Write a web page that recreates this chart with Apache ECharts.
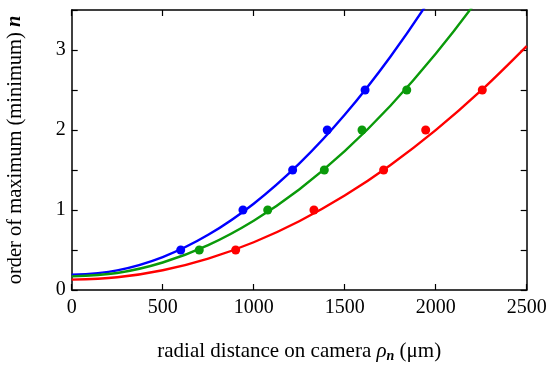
<!DOCTYPE html>
<html>
<head>
<meta charset="utf-8">
<script src="https://cdn.jsdelivr.net/npm/echarts@6/dist/echarts.min.js"></script>
<style>
  html, body { margin: 0; padding: 0; background: #fff; }
  #main { width: 549px; height: 367px; }
</style>
</head>
<body>
<div id="main"></div>
<script>
var myChart = echarts.init(document.getElementById('main'));

// measured points (radial distance in um, order n)
var bluePts = [[599, 0.5], [941, 1.0], [1214, 1.5], [1404, 2.0], [1612, 2.5]];
var greenPts = [[701, 0.5], [1077, 1.0], [1388, 1.5], [1595, 2.0], [1841, 2.5]];
var redPts = [[901, 0.5], [1331, 1.0], [1714, 1.5], [1945, 2.0], [2256, 2.5]];

// fitted curves
var curveX = [0, 250, 500, 750, 1000, 1250, 1500, 1750, 2000, 2250, 2500];
var blueFit = [0.19, 0.246, 0.412, 0.690, 1.079, 1.579, 2.190, 2.913, 3.746, 4.69, 5.75];
var greenFit = [0.17, 0.213, 0.344, 0.561, 0.866, 1.257, 1.735, 2.300, 2.952, 3.691, 4.52];
var redFit = [0.13, 0.159, 0.247, 0.393, 0.597, 0.860, 1.181, 1.560, 1.998, 2.494, 3.049];

function pairs(ys) {
    return curveX.map(function (x, i) { return [x, ys[i]]; });
}

var font = 'Liberation Serif';
var black = '#000';
var green = '#0a9a0a';

function fitLine(ys, color) {
    return {
        type: 'line', data: pairs(ys), smooth: 0.35, showSymbol: false,
        lineStyle: {color: color, width: 2.4}, clip: true, z: 2
    };
}
function dots(pts, color) {
    return {
        type: 'scatter', data: pts, symbolSize: 9,
        itemStyle: {color: color, opacity: 1}, z: 3
    };
}

var frameLine = {show: true, onZero: false, lineStyle: {color: black, width: 1.5}};
var tick = {inside: true, length: 6, lineStyle: {color: black, width: 1.2}};
var minor = {show: true, splitNumber: 2, length: 6, lineStyle: {color: black, width: 1.2}};

let option = {
    animation: false,
    grid: {left: 71.7, right: 22.3, top: 10, bottom: 77, outerBoundsMode: 'none'},
    xAxis: [{
        type: 'value', min: 0, max: 2500, interval: 500,
        axisLine: frameLine, axisTick: tick,
        axisLabel: {fontFamily: font, fontSize: 20, color: black, margin: 8,
            formatter: function (v) { return String(v); }},
        splitLine: {show: false},
        name: '{t|radial distance on camera }{g|ρ}{s|n}{t| (μm)}',
        nameLocation: 'middle', nameGap: 49,
        nameTextStyle: {
            rich: {
                t: {fontFamily: font, fontSize: 21, color: black},
                g: {fontFamily: font, fontSize: 21, fontStyle: 'italic', color: black},
                s: {fontFamily: font, fontSize: 14, fontStyle: 'italic', fontWeight: 'bold', color: black, padding: [10, 0, 0, 0]}
            }
        }
    }, {
        type: 'value', position: 'top', min: 0, max: 2500, interval: 500,
        axisLine: frameLine, axisTick: tick,
        axisLabel: {show: false}, splitLine: {show: false}
    }],
    yAxis: [{
        type: 'value', min: 0, max: 3.5, interval: 1,
        axisLine: frameLine, axisTick: tick, minorTick: minor,
        axisLabel: {fontFamily: font, fontSize: 20, color: black, margin: 6,
            showMaxLabel: false},
        splitLine: {show: false},
        name: '{t|order of maximum (minimum) }{n|n}',
        nameLocation: 'middle', nameGap: 46, nameRotate: 90,
        nameTextStyle: {
            rich: {
                t: {fontFamily: font, fontSize: 20.5, color: black},
                n: {fontFamily: font, fontSize: 20.5, fontStyle: 'italic', fontWeight: 'bold', color: black}
            }
        }
    }, {
        type: 'value', position: 'right', min: 0, max: 3.5, interval: 1,
        axisLine: frameLine, axisTick: tick, minorTick: minor,
        axisLabel: {show: false}, splitLine: {show: false}
    }],
    series: [
        fitLine(blueFit, '#0000ff'),
        fitLine(greenFit, green),
        fitLine(redFit, '#ff0000'),
        dots(bluePts, '#0000ff'),
        dots(greenPts, green),
        dots(redPts, '#ff0000')
    ]
};

myChart.setOption(option);
</script>
</body>
</html>
